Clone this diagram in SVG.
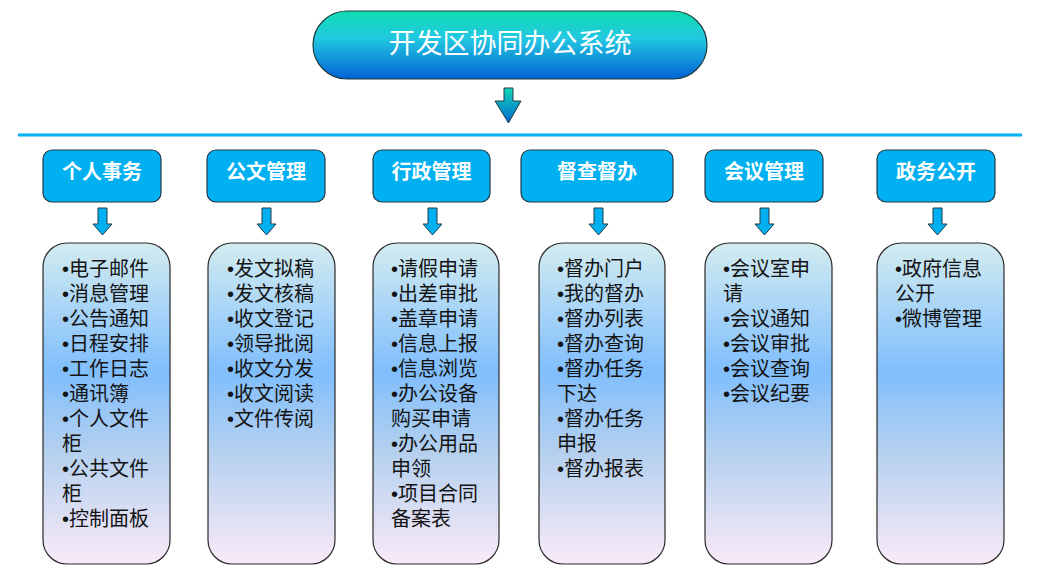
<svg xmlns="http://www.w3.org/2000/svg" width="1042" height="587" viewBox="0 0 1042 587">
<defs>
<linearGradient id="gTitle" x1="0" y1="0" x2="0" y2="1">
<stop offset="0" stop-color="#10dcb0"/>
<stop offset="0.4" stop-color="#22c8e2"/>
<stop offset="1" stop-color="#0062d2"/>
</linearGradient>
<linearGradient id="gArrow" x1="0" y1="0" x2="0" y2="1">
<stop offset="0" stop-color="#12d8b8"/>
<stop offset="1" stop-color="#0066d0"/>
</linearGradient>
<linearGradient id="gBody" x1="0" y1="0" x2="0" y2="1">
<stop offset="0" stop-color="#d3ecf0"/>
<stop offset="0.4" stop-color="#80befd"/>
<stop offset="0.65" stop-color="#b4d0ee"/>
<stop offset="1" stop-color="#faeaf8"/>
</linearGradient>
</defs>
<style>
.hdr{fill:#00b0f0;stroke:#233a48;stroke-width:1.2}
.body{fill:url(#gBody);stroke:#2a2a2a;stroke-width:1.2}
.ht{font-family:"Liberation Sans","Noto Sans CJK SC",sans-serif;font-size:20px;font-weight:bold;fill:#ffffff;text-anchor:middle}
.bt{font-family:"Liberation Sans","Noto Sans CJK SC",sans-serif;font-size:20px;fill:#141414}
.sa{fill:#00b0f0;stroke:#233a48;stroke-width:1}
</style>
<rect width="1042" height="587" fill="#ffffff"/>

<g id="title">
<rect x="313" y="11" width="394" height="68" rx="34" ry="34" fill="url(#gTitle)" stroke="#1d3a40" stroke-width="1.2"/>
<text x="510" y="53" font-family="'Noto Sans CJK SC',sans-serif" font-size="27" fill="#ffffff" text-anchor="middle">开发区协同办公系统</text>
</g>

<g id="connectors">
<path d="M504,88 H513 V101 H521 L508.5,123 L495,101 H504 Z" fill="url(#gArrow)" stroke="#233a48" stroke-width="1"/>
<line x1="18" y1="135" x2="1022" y2="135" stroke="#00b0f0" stroke-width="3"/>
<path class="sa" d="M98,208 H107 V224 H112 L102.5,235 L93,224 H98 Z"/>
<path class="sa" d="M262,208 H271 V224 H276 L266.5,235 L257,224 H262 Z"/>
<path class="sa" d="M428,208 H437 V224 H442 L432.5,235 L423,224 H428 Z"/>
<path class="sa" d="M594,208 H603 V224 H608 L598.5,235 L589,224 H594 Z"/>
<path class="sa" d="M760,208 H769 V224 H774 L764.5,235 L755,224 H760 Z"/>
<path class="sa" d="M933,208 H942 V224 H947 L937.5,235 L928,224 H933 Z"/>
</g>

<g id="h1"><rect class="hdr" x="43" y="150" width="118" height="52" rx="9"/><text class="ht" x="102" y="179">个人事务</text></g>
<g id="h2"><rect class="hdr" x="207" y="150" width="118" height="52" rx="9"/><text class="ht" x="266" y="179">公文管理</text></g>
<g id="h3"><rect class="hdr" x="373" y="150" width="117" height="52" rx="9"/><text class="ht" x="431.5" y="179">行政管理</text></g>
<g id="h4"><rect class="hdr" x="521" y="150" width="152" height="52" rx="9"/><text class="ht" x="597" y="179">督查督办</text></g>
<g id="h5"><rect class="hdr" x="705" y="150" width="118" height="52" rx="9"/><text class="ht" x="764" y="179">会议管理</text></g>
<g id="h6"><rect class="hdr" x="877" y="150" width="118" height="52" rx="9"/><text class="ht" x="936" y="179">政务公开</text></g>

<g id="b1"><rect class="body" x="43" y="243" width="127" height="321" rx="24"/>
<text class="bt"><tspan x="62" y="276">•电子邮件</tspan><tspan x="62" y="301">•消息管理</tspan><tspan x="62" y="326">•公告通知</tspan><tspan x="62" y="351">•日程安排</tspan><tspan x="62" y="376">•工作日志</tspan><tspan x="62" y="401">•通讯簿</tspan><tspan x="62" y="426">•个人文件</tspan><tspan x="62" y="451">柜</tspan><tspan x="62" y="476">•公共文件</tspan><tspan x="62" y="501">柜</tspan><tspan x="62" y="526">•控制面板</tspan></text></g>

<g id="b2"><rect class="body" x="208" y="243" width="127" height="321" rx="24"/>
<text class="bt"><tspan x="227" y="276">•发文拟稿</tspan><tspan x="227" y="301">•发文核稿</tspan><tspan x="227" y="326">•收文登记</tspan><tspan x="227" y="351">•领导批阅</tspan><tspan x="227" y="376">•收文分发</tspan><tspan x="227" y="401">•收文阅读</tspan><tspan x="227" y="426">•文件传阅</tspan></text></g>

<g id="b3"><rect class="body" x="373" y="243" width="126" height="321" rx="24"/>
<text class="bt"><tspan x="391" y="276">•请假申请</tspan><tspan x="391" y="301">•出差审批</tspan><tspan x="391" y="326">•盖章申请</tspan><tspan x="391" y="351">•信息上报</tspan><tspan x="391" y="376">•信息浏览</tspan><tspan x="391" y="401">•办公设备</tspan><tspan x="391" y="426">购买申请</tspan><tspan x="391" y="451">•办公用品</tspan><tspan x="391" y="476">申领</tspan><tspan x="391" y="501">•项目合同</tspan><tspan x="391" y="526">备案表</tspan></text></g>

<g id="b4"><rect class="body" x="539" y="243" width="126" height="321" rx="24"/>
<text class="bt"><tspan x="557" y="276">•督办门户</tspan><tspan x="557" y="301">•我的督办</tspan><tspan x="557" y="326">•督办列表</tspan><tspan x="557" y="351">•督办查询</tspan><tspan x="557" y="376">•督办任务</tspan><tspan x="557" y="401">下达</tspan><tspan x="557" y="426">•督办任务</tspan><tspan x="557" y="451">申报</tspan><tspan x="557" y="476">•督办报表</tspan></text></g>

<g id="b5"><rect class="body" x="705" y="243" width="127" height="321" rx="24"/>
<text class="bt"><tspan x="723" y="276">•会议室申</tspan><tspan x="723" y="301">请</tspan><tspan x="723" y="326">•会议通知</tspan><tspan x="723" y="351">•会议审批</tspan><tspan x="723" y="376">•会议查询</tspan><tspan x="723" y="401">•会议纪要</tspan></text></g>

<g id="b6"><rect class="body" x="877" y="243" width="127" height="321" rx="24"/>
<text class="bt"><tspan x="895" y="276">•政府信息</tspan><tspan x="895" y="301">公开</tspan><tspan x="895" y="326">•微博管理</tspan></text></g>
</svg>
